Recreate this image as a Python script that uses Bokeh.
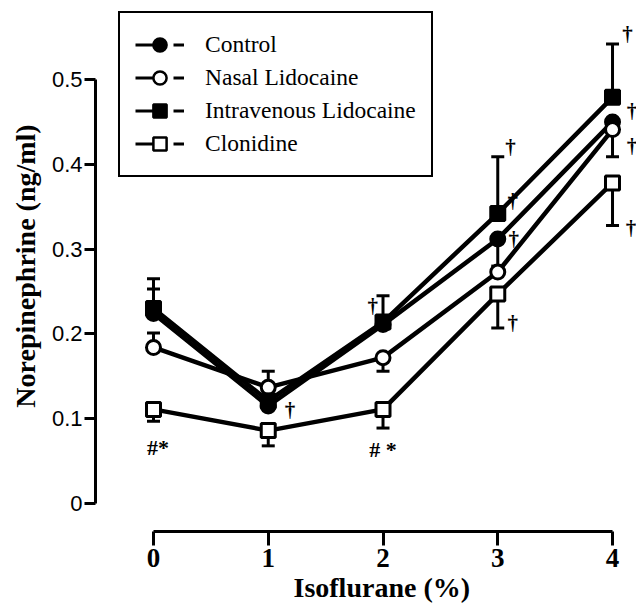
from bokeh.plotting import figure
from bokeh.models import (Range1d, FixedTicker, Whisker, TeeHead, ColumnDataSource,
                          Legend, LegendItem, Title)
from bokeh.core.properties import value
from bokeh.embed import file_html
from bokeh.resources import INLINE
import math

NaN = float("nan")

# ---- data -----------------------------------------------------------------
isoflurane = [0, 1, 2, 3, 4]
x_tick_labels = ["0", "1", "2", "3", "4"]
y_ticks = [0.0, 0.1, 0.2, 0.3, 0.4, 0.5]
y_tick_labels = ["0", "0.1", "0.2", "0.3", "0.4", "0.5"]

control = [0.224, 0.115, 0.211, 0.312, 0.450]
nasal = [0.184, 0.137, 0.172, 0.273, 0.441]
intravenous = [0.230, 0.121, 0.214, 0.342, 0.479]
clonidine = [0.111, 0.086, 0.111, 0.247, 0.378]

# error-bar end points (NaN = not shown)
control_up = [0.253, NaN, NaN, NaN, NaN]
control_lo = [NaN, NaN, NaN, 0.280, NaN]
nasal_up = [0.201, 0.156, NaN, NaN, NaN]
nasal_lo = [NaN, NaN, 0.156, NaN, 0.409]
intravenous_up = [0.265, NaN, 0.245, 0.409, 0.542]
intravenous_lo = [NaN, NaN, NaN, NaN, NaN]
clonidine_up = [NaN, NaN, NaN, NaN, NaN]
clonidine_lo = [0.097, 0.068, 0.089, 0.207, 0.328]

# significance marks
dagger_x = [1.19, 1.91, 3.11, 3.13, 3.14, 3.13, 4.13, 4.17, 4.17, 4.16]
dagger_y = [0.110, 0.233, 0.420, 0.357, 0.312, 0.213, 0.554, 0.463, 0.422, 0.325]
hash_x = [0.04, 2.0]
hash_y = [0.066, 0.064]
hash_text = ["#*", "# *"]

series = [
    ("Control", control, control_up, control_lo, "circle", "black"),
    ("Nasal Lidocaine", nasal, nasal_up, nasal_lo, "circle", "white"),
    ("Intravenous Lidocaine", intravenous, intravenous_up, intravenous_lo, "square", "black"),
    ("Clonidine", clonidine, clonidine_up, clonidine_lo, "square", "white"),
]

# ---- figure -----------------------------------------------------------------
p = figure(width=636, height=611, output_backend="svg", toolbar_location=None,
           x_range=Range1d(-0.5054, 4.209), y_range=Range1d(-0.033, 0.5932),
           min_border_left=95, min_border_right=0, min_border_top=0,
           min_border_bottom=80)
p.outline_line_color = None
p.xgrid.visible = False
p.ygrid.visible = False
p.background_fill_color = "white"

# axes
xa = p.xaxis[0]
xa.ticker = FixedTicker(ticks=isoflurane)
xa.major_label_overrides = {t: l for t, l in zip(isoflurane, x_tick_labels)}
xa.bounds = (0, 4)
xa.axis_line_width = 3
xa.axis_line_color = "black"
xa.major_tick_line_width = 3
xa.major_tick_line_color = "black"
xa.major_tick_out = 14
xa.major_tick_in = 0
xa.minor_tick_line_color = None
xa.major_label_text_font = "Liberation Serif"
xa.major_label_text_font_style = "bold"
xa.major_label_text_font_size = "27px"
xa.major_label_text_color = "black"
xa.major_label_standoff = 3

ya = p.yaxis[0]
ya.ticker = FixedTicker(ticks=y_ticks)
ya.major_label_overrides = {t: l for t, l in zip(y_ticks, y_tick_labels)}
ya.bounds = (0, 0.5)
ya.axis_line_width = 3
ya.axis_line_color = "black"
ya.major_tick_line_width = 3
ya.major_tick_line_color = "black"
ya.major_tick_out = 11
ya.major_tick_in = 0
ya.minor_tick_line_color = None
ya.major_label_text_font = "Liberation Sans"
ya.major_label_text_font_size = "22px"
ya.major_label_text_color = "black"
ya.major_label_standoff = 2
ya.axis_label = "Norepinephrine (ng/ml)"
ya.axis_label_text_font = "Liberation Serif"
ya.axis_label_text_font_style = "bold"
ya.axis_label_text_font_size = "28px"
ya.axis_label_text_color = "black"
ya.axis_label_standoff = 8

# x axis title, placed under the data
p.add_layout(Title(text="Isoflurane (%)", align="left", offset=198, standoff=0,
                   text_font="Liberation Serif", text_font_style="bold",
                   text_font_size="28px", text_color="black"), "below")

# error bars (under the markers)
for name, ys, up, lo, marker, fill in series:
    ux = [x for x, u in zip(isoflurane, up) if not math.isnan(u)]
    uy = [y for y, u in zip(ys, up) if not math.isnan(u)]
    uu = [u for u in up if not math.isnan(u)]
    if ux:
        src = ColumnDataSource(dict(x=ux, lower=uy, upper=uu))
        w = Whisker(source=src, base="x", lower="lower", upper="upper",
                    dimension="height", line_width=3, line_color="black",
                    upper_head=TeeHead(size=13, line_width=3, line_color="black"),
                    lower_head=None, level="underlay")
        p.add_layout(w)
    lx = [x for x, l in zip(isoflurane, lo) if not math.isnan(l)]
    ly = [y for y, l in zip(ys, lo) if not math.isnan(l)]
    ll = [l for l in lo if not math.isnan(l)]
    if lx:
        src = ColumnDataSource(dict(x=lx, lower=ll, upper=ly))
        w = Whisker(source=src, base="x", lower="lower", upper="upper",
                    dimension="height", line_width=3, line_color="black",
                    lower_head=TeeHead(size=13, line_width=3, line_color="black"),
                    upper_head=None, level="underlay")
        p.add_layout(w)

# lines and markers
for name, ys, up, lo, marker, fill in series:
    p.line(isoflurane, ys, line_width=4.5, line_color="black")
for name, ys, up, lo, marker, fill in series:
    p.scatter(isoflurane, ys, marker=marker, size=14, fill_color=fill,
              line_color="black", line_width=3)

# significance marks
p.text(x=dagger_x, y=dagger_y, text=["\u2020"] * len(dagger_x),
       text_font=value("Liberation Serif"), text_font_size="21px",
       text_font_style="bold", text_align="center", text_baseline="middle",
       text_color="black")
p.text(x=hash_x, y=hash_y, text=hash_text,
       text_font=value("Liberation Serif"), text_font_size="22px",
       text_font_style="bold", text_align="center", text_baseline="middle",
       text_color="black")

# legend (hidden copies of the series give the legend glyphs)
items = []
for name, ys, up, lo, marker, fill in series:
    lr = p.line(isoflurane, ys, line_width=3, line_color="black",
                line_dash="20 18 11 100", visible=False)
    sr = p.scatter(isoflurane, ys, marker=marker, size=14, fill_color=fill,
                   line_color="black", line_width=2.5, visible=False)
    items.append(LegendItem(label=name, renderers=[lr, sr]))
legend = Legend(items=items, location=(23, 354), margin=0, padding=15,
                spacing=0, glyph_width=49, glyph_height=33, label_height=33,
                label_standoff=21, label_text_font="Liberation Serif",
                label_text_font_size="23.5px", label_text_baseline="middle",
                label_text_color="black",
                border_line_color="black", border_line_width=2.5,
                border_line_alpha=1.0, inactive_fill_alpha=0.0,
                background_fill_color="white", background_fill_alpha=1.0)
p.add_layout(legend, "center")

open("out.html", "w").write(file_html(p, INLINE))
